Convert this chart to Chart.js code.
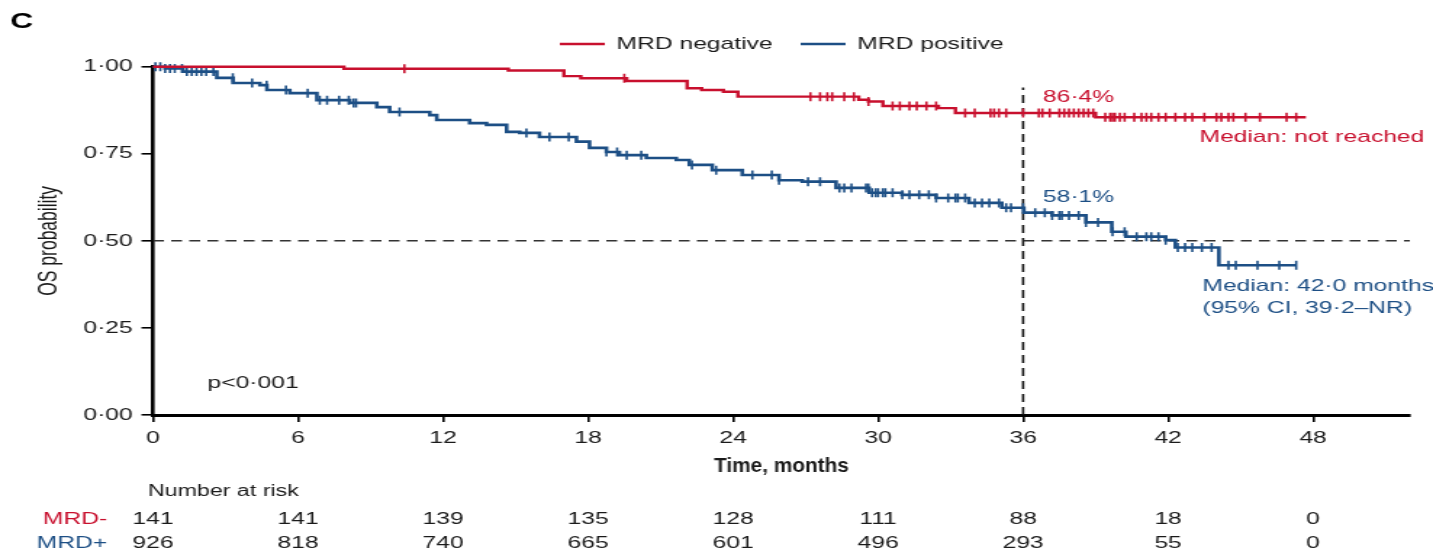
<!DOCTYPE html>
<html>
<head>
<meta charset="utf-8">
<script src="https://cdn.jsdelivr.net/npm/chart.js@4.4.1/dist/chart.umd.min.js"></script>
<style>
  html, body { margin: 0; padding: 0; background: #fff; overflow: hidden; }
  /* the source figure is stretched sideways, so draw narrow and widen the canvas */
  #km { display: block; transform: scaleX(1.4504); transform-origin: 0 0; }
</style>
</head>
<body>
<canvas id="km" width="988" height="551"></canvas>
<script>
const xTicks = [0, 6, 12, 18, 24, 30, 36, 42, 48];
const yTicks = [0, 0.25, 0.5, 0.75, 1];
const yTickLabels = ["0·00", "0·25", "0·50", "0·75", "1·00"];

// Kaplan-Meier steps (months, survival)
const negTimes = [0, 7.9, 14.7, 17.0, 17.7, 19.6, 22.1, 22.7, 23.6, 24.2, 29.2, 29.6, 30.2, 32.5, 33.2, 39.0, 47.7];
const negSurv = [1.0, 0.994, 0.989, 0.973, 0.967, 0.959, 0.938, 0.933, 0.928, 0.914, 0.905, 0.9, 0.887, 0.881, 0.867, 0.855, 0.855];
const negCensor = [10.4, 19.5, 27.2, 27.6, 27.9, 28.1, 28.6, 29.0, 29.6, 30.6, 30.9, 31.3, 31.6, 32.0, 32.4,
  33.6, 34.0, 34.65, 34.8, 35.0, 35.3, 36.0, 36.65, 36.8, 37.1, 37.5, 37.7, 37.9, 38.1, 38.3, 38.5, 38.7, 38.9,
  39.4, 39.6, 39.7, 39.8, 40.0, 40.2, 40.6, 40.9, 41.1, 41.3, 41.6, 41.9, 42.3, 42.7, 43.0, 43.5, 44.0, 44.2,
  44.5, 44.7, 45.2, 45.8, 46.9, 47.3];

const posTimes = [0, 0.5, 1.24, 2.64, 3.31, 4.42, 4.71, 5.66, 6.78, 8.14, 9.26, 9.79, 11.45, 11.74, 13.1, 13.8,
  14.63, 15.17, 15.99, 17.52, 18.06, 18.76, 19.3, 20.41, 21.65, 22.19, 23.14, 24.38, 25.9, 26.86, 28.26, 29.63,
  30.99, 32.4, 33.76, 35.12, 36.03, 37.2, 38.6, 39.67, 40.25, 41.9, 42.3, 44.1, 47.3];
const posSurv = [1.0, 0.995, 0.986, 0.968, 0.953, 0.947, 0.933, 0.924, 0.904, 0.896, 0.884, 0.870, 0.861, 0.847,
  0.838, 0.833, 0.813, 0.810, 0.798, 0.785, 0.767, 0.755, 0.746, 0.738, 0.732, 0.718, 0.703, 0.689, 0.674, 0.670,
  0.652, 0.638, 0.632, 0.623, 0.609, 0.595, 0.581, 0.573, 0.553, 0.526, 0.512, 0.502, 0.481, 0.43, 0.43];
const posCensor = [0.1, 0.3, 0.5, 0.7, 0.9, 1.2, 1.4, 1.6, 1.8, 2.0, 2.2, 2.5, 3.3, 4.1, 4.7, 5.5, 6.4, 6.9, 7.2,
  7.7, 8.1, 8.3, 8.4, 10.2, 15.45, 16.4, 17.2, 18.76, 19.2, 19.6, 20.2, 22.3, 23.3, 24.8, 25.6, 25.9, 27.1, 27.6,
  28.4, 28.6, 28.9, 29.5, 29.6, 29.75, 29.9, 30.0, 30.2, 30.3, 30.6, 31.0, 31.3, 31.7, 32.1, 32.4, 32.9, 33.2,
  33.3, 33.6, 34.0, 34.3, 34.6, 35.0, 35.3, 35.5, 36.0, 36.5, 36.9, 37.2, 37.5, 37.6, 37.9, 38.3, 38.6, 39.1,
  39.7, 40.2, 40.7, 41.1, 41.3, 41.6, 41.9, 42.4, 42.7, 43.0, 43.4, 43.8, 44.5, 44.8, 45.7, 46.6, 47.3];

const riskTimes = [0, 6, 12, 18, 24, 30, 36, 42, 48];
const riskNeg = [141, 141, 139, 135, 128, 111, 88, 18, 0];
const riskPos = [926, 818, 740, 665, 601, 496, 293, 55, 0];

const RED = "#c8102e";
const BLUE = "#1d4f85";
const INK = "#1a1a1a";
const SANS = '"Liberation Sans", Arial, Helvetica, sans-serif';

function survAt(times, surv, t) {
  let s = surv[0];
  for (let i = 0; i < times.length; i++) {
    if (times[i] <= t) s = surv[i];
  }
  return s;
}

const toPts = (times, surv) => times.map((t, i) => ({ x: t, y: surv[i] }));
const censorPts = (cens, times, surv) => cens.map((t) => ({ x: t, y: survAt(times, surv, t) }));

const textPlugin = {
  id: "kmText",
  afterDraw(chart) {
    const ctx = chart.ctx;
    const x = chart.scales.x;
    ctx.save();
    ctx.textBaseline = "middle";

    // panel letter
    ctx.fillStyle = "#000";
    ctx.font = "bold 22px " + SANS;
    ctx.textAlign = "left";
    ctx.fillText("C", 7, 22);

    // legend
    const legend = [
      { x0: 386, x1: 417, tx: 425, color: RED, text: "MRD negative" },
      { x0: 552, x1: 583, tx: 591, color: BLUE, text: "MRD positive" },
    ];
    ctx.font = "17px " + SANS;
    legend.forEach((l) => {
      ctx.strokeStyle = l.color;
      ctx.lineWidth = 2.5;
      ctx.beginPath();
      ctx.moveTo(l.x0, 44);
      ctx.lineTo(l.x1, 44);
      ctx.stroke();
      ctx.fillStyle = INK;
      ctx.fillText(l.text, l.tx, 44);
    });

    // x axis title, narrow face like the source
    ctx.save();
    ctx.font = "bold 21px " + SANS;
    const tw = ctx.measureText("Time, months").width;
    ctx.translate((chart.chartArea.left + chart.chartArea.right) / 2, 466);
    ctx.scale(93 / tw, 1);
    ctx.textAlign = "center";
    ctx.fillStyle = INK;
    ctx.fillText("Time, months", 0, 0);
    ctx.restore();

    // annotations
    ctx.font = "17px " + SANS;
    ctx.fillStyle = RED;
    ctx.fillText("86·4%", 719, 97);
    ctx.textAlign = "right";
    ctx.fillText("Median: not reached", 982, 137);
    ctx.textAlign = "left";
    ctx.fillStyle = BLUE;
    ctx.fillText("58·1%", 719, 197);
    ctx.fillText("Median: 42·0 months", 829, 286);
    ctx.fillText("(95% CI, 39·2–NR)", 829, 308);
    ctx.fillStyle = INK;
    ctx.fillText("p<0·001", 143, 383);

    // number at risk
    ctx.font = "16px " + SANS;
    ctx.fillText("Number at risk", 102, 492);
    ctx.font = "17px " + SANS;
    ctx.textAlign = "right";
    ctx.fillStyle = RED;
    ctx.fillText("MRD-", 74, 519);
    ctx.fillStyle = BLUE;
    ctx.fillText("MRD+", 74, 543);
    ctx.textAlign = "center";
    ctx.fillStyle = INK;
    riskTimes.forEach((t, i) => {
      const px = x.getPixelForValue(t);
      ctx.fillText(String(riskNeg[i]), px, 519);
      ctx.fillText(String(riskPos[i]), px, 543);
    });
    ctx.restore();
  },
};

new Chart(document.getElementById("km"), {
  type: "line",
  data: {
    datasets: [
      {
        label: "MRD negative",
        data: toPts(negTimes, negSurv),
        stepped: true,
        borderColor: RED,
        borderWidth: 2.4,
        pointRadius: 0,
        clip: 8,
      },
      {
        label: "MRD positive",
        data: toPts(posTimes, posSurv),
        stepped: true,
        borderColor: BLUE,
        borderWidth: 2.6,
        pointRadius: 0,
        clip: 8,
      },
      {
        label: "neg censored",
        data: censorPts(negCensor, negTimes, negSurv),
        showLine: false,
        pointStyle: "line",
        rotation: 90,
        pointRadius: 4.5,
        pointBorderWidth: 1.6,
        pointBorderColor: RED,
        pointHoverRadius: 0,
        clip: 8,
      },
      {
        label: "pos censored",
        data: censorPts(posCensor, posTimes, posSurv),
        showLine: false,
        pointStyle: "line",
        rotation: 90,
        pointRadius: 4.5,
        pointBorderWidth: 1.6,
        pointBorderColor: BLUE,
        pointHoverRadius: 0,
        clip: 8,
      },
      {
        label: "median",
        data: [{ x: 0, y: 0.5 }, { x: 52, y: 0.5 }],
        borderColor: "#333",
        borderWidth: 1.5,
        borderDash: [7.5, 5],
        pointRadius: 0,
      },
      {
        label: "36 months",
        data: [{ x: 36, y: 0 }, { x: 36, y: 0.94 }],
        borderColor: "#111",
        borderWidth: 1.6,
        borderDash: [8, 5],
        pointRadius: 0,
      },
    ],
  },
  options: {
    responsive: false,
    animation: false,
    devicePixelRatio: 1,
    layout: { padding: { left: 0, right: 16, top: 66.7, bottom: 70 } },
    plugins: { legend: { display: false }, tooltip: { enabled: false } },
    scales: {
      x: {
        type: "linear",
        min: 0,
        max: 52,
        afterBuildTicks: (s) => { s.ticks = xTicks.map((v) => ({ value: v })); },
        afterFit: (s) => { s.height = 66; },
        ticks: { color: INK, font: { family: SANS, size: 17 }, padding: 6, maxRotation: 0, autoSkip: false },
        grid: { drawOnChartArea: false, drawTicks: true, tickLength: 7, color: "#000", lineWidth: 1.6 },
        border: { color: "#000", width: 3 },
      },
      y: {
        min: 0,
        max: 1,
        afterBuildTicks: (s) => { s.ticks = yTicks.map((v) => ({ value: v })); },
        afterFit: (s) => { s.width = 105.5; },
        ticks: {
          color: INK,
          font: { family: SANS, size: 17 },
          padding: 6,
          callback: (v) => yTickLabels[yTicks.indexOf(v)],
        },
        grid: { drawOnChartArea: false, drawTicks: true, tickLength: 8, color: "#000", lineWidth: 1.6 },
        border: { color: "#000", width: 2.6 },
        title: {
          display: true,
          text: "OS probability",
          color: INK,
          font: { family: SANS, size: 17.5 },
          padding: { top: 24, bottom: 0 },
        },
      },
    },
  },
  plugins: [textPlugin],
});
</script>
</body>
</html>
